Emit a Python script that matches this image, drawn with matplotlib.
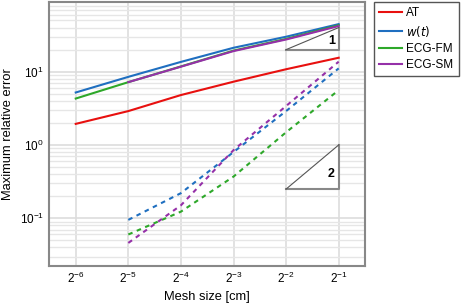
import matplotlib
matplotlib.use("Agg")
import matplotlib.pyplot as plt
from matplotlib.patches import Polygon

plt.rcParams['font.family'] = ['Liberation Sans', 'DejaVu Sans']

# mesh sizes (exponents of 2)
h_solid = [2**-6, 2**-5, 2**-4, 2**-3, 2**-2, 2**-1]
h_sm = [2**-5, 2**-4, 2**-3, 2**-2, 2**-1]
h_dash = [2**-5, 2**-4, 2**-3, 2**-2, 2**-1]

# solid lines
err_at = [1.94, 2.9, 4.8, 7.3, 10.8, 15.5]
err_w = [5.2, 8.5, 13.6, 21.2, 30.0, 44.6]
err_fm = [4.3, 7.2, 11.8, 19.4, 28.0, 43.0]
err_sm = [7.2, 11.7, 19.1, 27.5, 42.0]

# dashed lines
err_w_d = [0.095, 0.22, 0.80, 2.9, 11.1]
err_fm_d = [0.060, 0.123, 0.37, 1.49, 5.6]
err_sm_d = [0.046, 0.15, 0.85, 3.4, 13.7]

labels = ['AT', '$w(t)$', 'ECG-FM', 'ECG-SM']
colors = ['#e8100f', '#1f6fc0', '#2ea82a', '#9530a8']

fig = plt.figure(figsize=(4.62, 3.04), dpi=100)
ax = fig.add_axes([0.107, 0.126, 0.683, 0.867])

ax.plot(h_solid, err_at, color=colors[0], lw=1.5, label=labels[0])
ax.plot(h_solid, err_w, color=colors[1], lw=1.5, label=labels[1])
ax.plot(h_solid, err_fm, color=colors[2], lw=1.5, label=labels[2])
ax.plot(h_sm, err_sm, color=colors[3], lw=1.5, label=labels[3])

ax.plot(h_dash, err_w_d, color=colors[1], lw=1.5, ls=(0, (2.2, 2.2)))
ax.plot(h_dash, err_fm_d, color=colors[2], lw=1.5, ls=(0, (2.2, 2.2)))
ax.plot(h_dash, err_sm_d, color=colors[3], lw=1.5, ls=(0, (2.2, 2.2)))

# slope triangles
tri1 = Polygon([[2**-2, 20], [2**-1, 20], [2**-1, 40]], closed=True,
               facecolor='white', edgecolor='none', zorder=3)
ax.add_patch(tri1)
ax.plot([2**-2, 2**-1, 2**-1], [20, 20, 40], color='#888888', lw=1.5, zorder=4)
ax.plot([2**-2, 2**-1], [20, 40], color='#555555', lw=0.8, zorder=4)
ax.text(2**-1.14, 21.5, '1', fontsize=9, fontweight='bold', ha='center', va='bottom', zorder=5)

tri2 = Polygon([[2**-2, 0.25], [2**-1, 0.25], [2**-1, 1.0]], closed=True,
               facecolor='white', edgecolor='none', zorder=3)
ax.add_patch(tri2)
ax.plot([2**-2, 2**-1, 2**-1], [0.25, 0.25, 1.0], color='#888888', lw=1.5, zorder=4)
ax.plot([2**-2, 2**-1], [0.25, 1.0], color='#555555', lw=0.8, zorder=4)
ax.text(2**-1.14, 0.33, '2', fontsize=9, fontweight='bold', ha='center', va='bottom', zorder=5)

ax.set_xscale('log', base=2)
ax.set_yscale('log')
ax.set_xlim(2**-6.5, 2**-0.5)
ax.set_ylim(0.0225, 89)
ax.set_xticks([2**-6, 2**-5, 2**-4, 2**-3, 2**-2, 2**-1])
ax.xaxis.set_minor_locator(matplotlib.ticker.NullLocator())

ax.grid(True, which='major', color='#dddddd', lw=1.2)
ax.grid(True, which='minor', axis='y', color='#e6e6e6', lw=1.0)
ax.set_axisbelow(True)
ax.tick_params(which='both', length=0, labelsize=8.5, pad=4)
for s in ax.spines.values():
    s.set_color('#888888')
    s.set_linewidth(1.5)

ax.set_xlabel('Mesh size [cm]', fontsize=9.3, labelpad=3)
ax.set_ylabel('Maximum relative error', fontsize=9.3, labelpad=4)

fig.legend(loc='upper left', bbox_to_anchor=(0.809, 0.993), borderaxespad=0,
           fontsize=8.5, fancybox=False, edgecolor='#555555', framealpha=1,
           handlelength=1.9, borderpad=0.45, labelspacing=0.35, handletextpad=0.4)

fig.savefig('out.png', dpi=100)
